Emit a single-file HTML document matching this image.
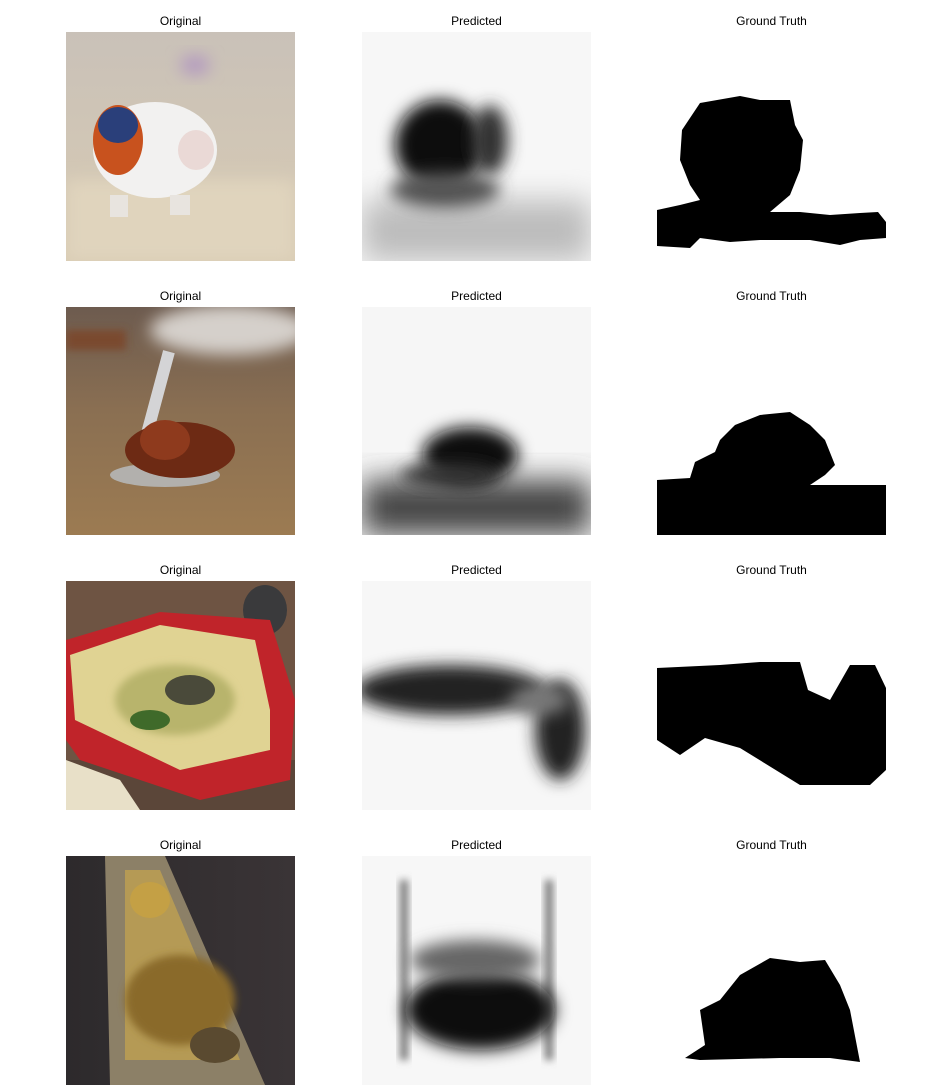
<!DOCTYPE html>
<html><head><meta charset="utf-8">
<style>
html,body{margin:0;padding:0;background:#fff;}
body{width:933px;height:1086px;position:relative;overflow:hidden;font-family:"Liberation Sans",sans-serif;}
.t{position:absolute;font-size:12px;color:#000;width:229px;text-align:center;}
svg{position:absolute;left:0;top:0;}
</style></head><body>
<div>
<div class="t" style="left:66px;top:14px">Original</div>
<div class="t" style="left:362px;top:14px">Predicted</div>
<div class="t" style="left:657px;top:14px">Ground Truth</div>
<div class="t" style="left:66px;top:289px">Original</div>
<div class="t" style="left:362px;top:289px">Predicted</div>
<div class="t" style="left:657px;top:289px">Ground Truth</div>
<div class="t" style="left:66px;top:563px">Original</div>
<div class="t" style="left:362px;top:563px">Predicted</div>
<div class="t" style="left:657px;top:563px">Ground Truth</div>
<div class="t" style="left:66px;top:838px">Original</div>
<div class="t" style="left:362px;top:838px">Predicted</div>
<div class="t" style="left:657px;top:838px">Ground Truth</div>
</div>
<svg width="933" height="1086">
<defs>
<filter id="b8" x="-50%" y="-50%" width="200%" height="200%"><feGaussianBlur stdDeviation="8"/></filter>
<filter id="b15" x="-50%" y="-50%" width="200%" height="200%"><feGaussianBlur stdDeviation="15"/></filter>
<filter id="b4" x="-50%" y="-50%" width="200%" height="200%"><feGaussianBlur stdDeviation="4"/></filter>
<linearGradient id="g1" x1="0" y1="0" x2="0" y2="1"><stop offset="0" stop-color="#c9c1b8"/><stop offset="1" stop-color="#d8cbb3"/></linearGradient>
<linearGradient id="g2" x1="0" y1="0" x2="0" y2="1"><stop offset="0" stop-color="#6d5b4f"/><stop offset="0.45" stop-color="#8a6f52"/><stop offset="1" stop-color="#9c7b52"/></linearGradient>
<linearGradient id="g4" x1="0" y1="0" x2="1" y2="0"><stop offset="0" stop-color="#2d2a2c"/><stop offset="1" stop-color="#3a3436"/></linearGradient>
<clipPath id="c11"><rect x="66" y="32" width="229" height="229"/></clipPath>
<clipPath id="c12"><rect x="362" y="32" width="229" height="229"/></clipPath>
<clipPath id="c21"><rect x="66" y="307" width="229" height="228"/></clipPath>
<clipPath id="c22"><rect x="362" y="307" width="229" height="228"/></clipPath>
<clipPath id="c31"><rect x="66" y="581" width="229" height="229"/></clipPath>
<clipPath id="c32"><rect x="362" y="581" width="229" height="229"/></clipPath>
<clipPath id="c41"><rect x="66" y="856" width="229" height="229"/></clipPath>
<clipPath id="c42"><rect x="362" y="856" width="229" height="229"/></clipPath>
</defs>

<!-- Row 1 -->
<g clip-path="url(#c11)">
<rect x="66" y="32" width="229" height="229" fill="url(#g1)"/>
<rect x="66" y="180" width="229" height="81" fill="#e0d4bd" filter="url(#b8)"/>
<ellipse cx="195" cy="65" rx="15" ry="10" fill="#b39ac0" filter="url(#b8)"/>
<ellipse cx="155" cy="150" rx="62" ry="48" fill="#f2f1f0"/>
<ellipse cx="118" cy="140" rx="25" ry="35" fill="#c8521e"/>
<ellipse cx="118" cy="125" rx="20" ry="18" fill="#2a3f7a"/>
<ellipse cx="196" cy="150" rx="18" ry="20" fill="#ead9d6"/>
<rect x="110" y="195" width="18" height="22" fill="#e8e4df"/><rect x="170" y="195" width="20" height="20" fill="#e8e4df"/>
</g>
<g clip-path="url(#c12)">
<rect x="362" y="32" width="229" height="229" fill="#f7f7f7"/>
<rect x="362" y="200" width="229" height="61" fill="#bcbcbc" filter="url(#b15)"/>
<ellipse cx="440" cy="145" rx="45" ry="45" fill="#111" filter="url(#b8)"/>
<ellipse cx="490" cy="140" rx="18" ry="35" fill="#333" filter="url(#b8)"/>
<ellipse cx="445" cy="190" rx="55" ry="18" fill="#555" filter="url(#b8)"/>
</g>
<g>
<polygon fill="#000" points="700,103 740,96 760,100 790,100 795,125 803,140 800,170 790,195 770,212 800,212 830,215 860,213 878,212 886,222 886,238 860,240 840,245 810,240 760,240 730,242 700,238 690,248 657,246 657,210 680,205 700,200 690,185 680,160 682,130"/>
</g>

<!-- Row 2 -->
<g clip-path="url(#c21)">
<rect x="66" y="307" width="229" height="228" fill="url(#g2)"/>
<ellipse cx="230" cy="330" rx="80" ry="25" fill="#d5d0cb" filter="url(#b8)"/>
<rect x="66" y="330" width="60" height="20" fill="#7a4a2e" filter="url(#b4)"/>
<rect x="150" y="350" width="12" height="100" fill="#d4d4d6" transform="rotate(15 156 400)"/>
<ellipse cx="165" cy="475" rx="55" ry="12" fill="#b2b0ad"/>
<ellipse cx="180" cy="450" rx="55" ry="28" fill="#6d2a14"/>
<ellipse cx="165" cy="440" rx="25" ry="20" fill="#8e3a1d"/>
</g>
<g clip-path="url(#c22)">
<rect x="362" y="307" width="229" height="228" fill="#f6f6f6"/>
<rect x="362" y="480" width="229" height="55" fill="#444" filter="url(#b15)"/>
<ellipse cx="470" cy="455" rx="48" ry="28" fill="#111" filter="url(#b8)"/>
<ellipse cx="450" cy="475" rx="50" ry="12" fill="#333" filter="url(#b8)"/>
</g>
<g>
<polygon fill="#000" points="735,425 760,415 790,412 810,425 825,440 835,465 825,475 810,485 886,485 886,535 657,535 657,480 690,478 695,462 715,452 720,440"/>
</g>

<!-- Row 3 -->
<g clip-path="url(#c31)">
<rect x="66" y="581" width="229" height="229" fill="#6e5443"/>
<rect x="66" y="760" width="229" height="50" fill="#5b4639"/>
<ellipse cx="265" cy="610" rx="22" ry="25" fill="#3a3a3c"/>
<polygon fill="#c0242a" points="66,640 160,612 270,620 295,700 290,780 200,800 80,760 66,740"/>
<polygon fill="#e0d393" points="70,655 160,625 255,640 270,710 270,750 180,770 75,720"/>
<ellipse cx="175" cy="700" rx="60" ry="35" fill="#b8b46c" filter="url(#b4)"/>
<ellipse cx="190" cy="690" rx="25" ry="15" fill="#4a4a3a"/>
<ellipse cx="150" cy="720" rx="20" ry="10" fill="#3f6a2a"/>
<polygon fill="#e8e0c8" points="66,760 120,780 140,810 66,810"/>
</g>
<g clip-path="url(#c32)">
<rect x="362" y="581" width="229" height="229" fill="#f7f7f7"/>
<ellipse cx="450" cy="690" rx="95" ry="25" fill="#222" filter="url(#b8)"/>
<ellipse cx="560" cy="730" rx="25" ry="50" fill="#222" filter="url(#b8)"/>
<ellipse cx="540" cy="700" rx="30" ry="15" fill="#777" filter="url(#b8)"/>
</g>
<g>
<polygon fill="#000" points="657,668 720,665 760,662 800,662 808,690 830,700 850,665 875,665 886,688 886,770 870,785 800,785 740,748 705,738 680,755 657,740"/>
</g>

<!-- Row 4 -->
<g clip-path="url(#c41)">
<rect x="66" y="856" width="229" height="229" fill="url(#g4)"/>
<polygon fill="#8c8067" points="105,856 165,856 265,1085 110,1085"/>
<polygon fill="#b59a55" points="125,870 160,870 240,1060 125,1060"/>
<ellipse cx="180" cy="1000" rx="55" ry="45" fill="#8a6a2a" filter="url(#b4)"/>
<ellipse cx="150" cy="900" rx="20" ry="18" fill="#c4a045"/>
<ellipse cx="215" cy="1045" rx="25" ry="18" fill="#5a4a30"/>
</g>
<g clip-path="url(#c42)">
<rect x="362" y="856" width="229" height="229" fill="#f7f7f7"/>
<rect x="400" y="880" width="8" height="180" fill="#777" filter="url(#b4)"/>
<rect x="545" y="880" width="8" height="180" fill="#777" filter="url(#b4)"/>
<ellipse cx="480" cy="1010" rx="75" ry="40" fill="#111" filter="url(#b8)"/>
<ellipse cx="475" cy="960" rx="65" ry="20" fill="#666" filter="url(#b8)"/>
</g>
<g>
<polygon fill="#000" points="740,975 770,958 800,962 825,960 840,985 850,1010 860,1062 830,1058 780,1058 700,1060 685,1058 705,1045 700,1010 720,1000"/>
</g>
</svg>
</body></html>
